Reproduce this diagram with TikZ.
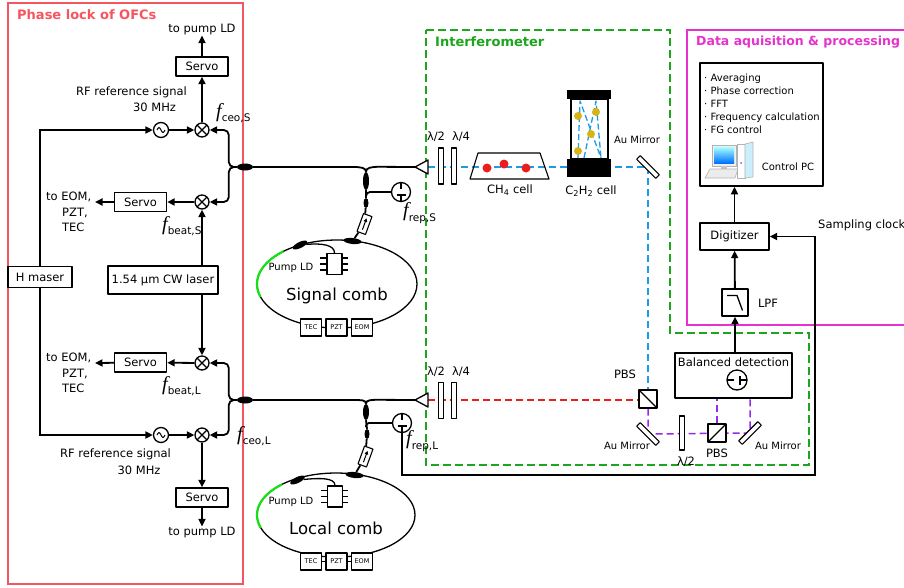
\documentclass[tikz,border=0pt]{standalone}
\usepackage{fontspec}
\setmainfont{DejaVu Sans}
\newfontfamily\fitalic{Liberation Serif}
\usetikzlibrary{arrows.meta,shapes.geometric}
\pgfdeclarelayer{back}
\pgfsetlayers{back,main}
\definecolor{lockred}{RGB}{245,85,95}
\definecolor{ifgreen}{RGB}{30,165,30}
\definecolor{daqpink}{RGB}{230,50,205}
\definecolor{beamblue}{RGB}{30,155,230}
\definecolor{beamred}{RGB}{235,30,30}
\definecolor{beamviolet}{RGB}{150,40,245}
\definecolor{pumpgreen}{RGB}{20,225,20}
\definecolor{gasyellow}{RGB}{215,180,20}
\newcommand{\fsig}[1]{{\fontsize{20}{20}\selectfont\fitalic\itshape f}\raisebox{-4.5pt}{\fontsize{10.5}{12}\selectfont #1}}
\tikzset{sig/.style={line width=1.8pt,-{Triangle[length=7.5pt,width=7pt]}}}
\tikzset{fiber/.style={line width=1.8pt}}
\tikzset{beam/.style={line width=1.5pt,dash pattern=on 7pt off 4pt}}
\tikzset{box/.style={draw,line width=1.4pt,fill=white}}
\tikzset{servo/.style={box,minimum width=52pt,minimum height=19pt}}
\tikzset{mixer/.style={circle,draw,line width=1.3pt,fill=white,minimum size=14pt,
  path picture={\draw[line width=1.1pt] (path picture bounding box.north west) -- (path picture bounding box.south east)
    (path picture bounding box.north east) -- (path picture bounding box.south west);}}}
\tikzset{osc/.style={circle,draw,line width=1.3pt,fill=white,minimum size=15pt,
  path picture={\draw[line width=1pt] ([xshift=-4pt]path picture bounding box.center)
    sin ++(2pt,2.5pt) cos ++(2pt,-2.5pt) sin ++(2pt,-2.5pt) cos ++(2pt,2.5pt);}}}
\tikzset{pdiode/.style={circle,draw,line width=1.3pt,fill=white,minimum size=19pt,
  path picture={\draw[line width=1.1pt] (path picture bounding box.north) -- (path picture bounding box.south);
    \fill ([shift={(-4.5pt,3pt)}]path picture bounding box.center) -- ++(9pt,0pt) -- ++(-4.5pt,-6pt) -- cycle;
    \draw[line width=1.3pt] ([shift={(-4.5pt,-3pt)}]path picture bounding box.center) -- ++(9pt,0pt);}}}
\tikzset{pdright/.style={circle,draw,line width=1.3pt,fill=white,minimum size=20pt,
  path picture={\draw[line width=1.1pt] (path picture bounding box.west) -- (path picture bounding box.east);
    \fill ([shift={(-3pt,4.5pt)}]path picture bounding box.center) -- ++(0pt,-9pt) -- ++(6pt,4.5pt) -- cycle;
    \draw[line width=1.3pt] ([shift={(3pt,-4.5pt)}]path picture bounding box.center) -- ++(0pt,9pt);}}}
\tikzset{isol/.style={draw,line width=1.1pt,fill=white,minimum width=9pt,minimum height=19pt,
  path picture={\draw[line width=1pt,-{Triangle[length=3.5pt,width=3.5pt]}] ([yshift=-6pt]path picture bounding box.center) -- ([yshift=6pt]path picture bounding box.center);}}}
\tikzset{plate/.style={draw,line width=1.1pt,fill=white,minimum width=5pt,minimum height=36pt}}
\tikzset{mirr/.style={draw,line width=1.1pt,fill=white,minimum width=27pt,minimum height=5pt}}
\tikzset{pbsA/.style={draw,line width=1.1pt,fill=white,minimum size=18pt,
  path picture={\draw[line width=1.1pt] (path picture bounding box.north west) -- (path picture bounding box.south east);}}}
\tikzset{pbsB/.style={draw,line width=1.1pt,fill=white,minimum size=18pt,
  path picture={\draw[line width=1.1pt] (path picture bounding box.south west) -- (path picture bounding box.north east);}}}
\tikzset{cpl/.style={ellipse,fill=black}}
\tikzset{ctrlbox/.style={box,line width=1.1pt,minimum width=21pt,minimum height=17pt,font=\fontsize{6.5}{7}\selectfont}}
\tikzset{ldbox/.style={box,line width=1.1pt,minimum width=15pt,minimum height=21pt}}
\tikzset{smalltext/.style={font=\fontsize{10}{12}\selectfont}}
\tikzset{frametitle/.style={anchor=west,font=\fontsize{13}{15}\selectfont\bfseries}}

\begin{document}
\begin{tikzpicture}[x=1pt,y=-1pt,inner sep=0pt,font=\fontsize{11.5}{14}\selectfont,line join=round]
\useasboundingbox (0,0) rectangle (904,587);

\begin{pgfonlayer}{back}
\draw[lockred,line width=1.8pt] (8,3) rectangle (243,584);
\draw[ifgreen,line width=1.8pt,dash pattern=on 8pt off 4pt] (426,30) -- (670,30) -- (670,333) -- (809,333) -- (809,465) -- (426,465) -- cycle;
\draw[daqpink,line width=1.8pt] (687,30) rectangle (912,325);
\end{pgfonlayer}
\node[frametitle,text=lockred] (tLock) at (17,15) {Phase lock of OFCs};
\node[frametitle,text=ifgreen] (tIf) at (435,42) {Interferometer};
\node[frametitle,text=daqpink,font=\fontsize{12.5}{15}\selectfont\bfseries] (tDaq) at (696,42) {Data aquisition \& processing};

\node[box,minimum width=64pt,minimum height=21pt] (maser) at (40,277) {H maser};
\node[box,minimum width=110pt,minimum height=28pt] (cw) at (163,280) {1.54 μm CW laser};

\node[osc] (oscS) at (161,130) {};
\node[mixer] (mixCS) at (202,130) {};
\node[servo] (servoCS) at (202,66.5) {Servo};
\node (pumpS) at (202,30) {to pump LD};
\node (rfS) at (131.5,92) {RF reference signal};
\node (rfSf) at (154.5,107) {30 MHz};
\node[anchor=west] (fceoS) at (216,113) {\fsig{ceo,S}};

\node[mixer] (mixBS) at (202,202) {};
\node[servo] (servoBS) at (140.5,202) {Servo};
\node[anchor=west,align=left,font=\fontsize{11.5}{15.5}\selectfont] (outBS) at (46,212) {to EOM,\\\hspace*{16pt}PZT,\\\hspace*{16pt}TEC};
\coordinate (outBSa) at (95,202);
\node[anchor=west] (fbS) at (162,226) {\fsig{beat,S}};

\node[mixer] (mixBL) at (202,363) {};
\node[servo] (servoBL) at (140.5,362.5) {Servo};
\node[anchor=west,align=left,font=\fontsize{11.5}{15.5}\selectfont] (outBL) at (46,373) {to EOM,\\\hspace*{16pt}PZT,\\\hspace*{16pt}TEC};
\coordinate (outBLa) at (95,363);
\node[anchor=west] (fbL) at (162,386) {\fsig{beat,L}};

\node[osc] (oscL) at (161,435) {};
\node[mixer] (mixCL) at (202,435) {};
\node[servo] (servoCL) at (202,497.5) {Servo};
\node (pumpL) at (202,532) {to pump LD};
\node (rfL) at (115.5,454) {RF reference signal};
\node (rfLf) at (139,470) {30 MHz};
\node[anchor=west] (fceoL) at (237,436) {\fsig{ceo,L}};

\node[cpl,minimum width=16pt,minimum height=7pt] (tapS) at (245,167) {};
\node[cpl,minimum width=6pt,minimum height=18pt] (ycS) at (366,181) {};
\node[cpl,minimum width=5pt,minimum height=10pt] (cS2) at (366,203) {};
\node[isol,rotate=-20] (isoS) at (364.5,224) {};
\node[cpl,minimum width=18pt,minimum height=6pt,rotate=-6] (ringcS) at (352.5,241) {};
\node[cpl,minimum width=16pt,minimum height=6pt,rotate=26] (cplPS) at (300,245) {};
\node[pdiode] (pdS) at (401,192) {};
\node[anchor=west] (frepS) at (403,213) {\fsig{rep,S}};
\coordinate (collS) at (415,167);
\coordinate (ringS) at (337,284);
\node[ldbox] (ldS) at (334.5,264) {};
\node[smalltext] (pumpldS) at (291,268) {Pump LD};
\node[font=\fontsize{16.5}{18}\selectfont] (nameS) at (337,296) {Signal comb};
\node[ctrlbox] (tecS) at (311,327.5) {TEC};
\node[ctrlbox] (pztS) at (336.5,327.5) {PZT};
\node[ctrlbox] (eomS) at (362,327.5) {EOM};

\node[cpl,minimum width=16pt,minimum height=7pt] (tapL) at (245,400) {};
\node[cpl,minimum width=6pt,minimum height=16pt] (ycL) at (366,412) {};
\node[cpl,minimum width=5pt,minimum height=10pt] (cL2) at (367,434) {};
\node[isol,rotate=-20] (isoL) at (365.5,456.5) {};
\node[cpl,minimum width=18pt,minimum height=6pt,rotate=-6] (ringcL) at (354.5,475) {};
\node[cpl,minimum width=16pt,minimum height=6pt,rotate=26] (cplPL) at (297.5,480) {};
\node[pdiode] (pdL) at (402,423) {};
\node[anchor=west] (frepL) at (406,441) {\fsig{rep,L}};
\coordinate (collL) at (415,400);
\coordinate (ringL) at (336,515);
\node[ldbox] (ldL) at (335,496.5) {};
\node[smalltext] (pumpldL) at (291,502) {Pump LD};
\node[font=\fontsize{16.5}{18}\selectfont] (nameL) at (336,528) {Local comb};
\node[ctrlbox] (tecL) at (311,561.5) {TEC};
\node[ctrlbox] (pztL) at (336.5,561.5) {PZT};
\node[ctrlbox] (eomL) at (362,561.5) {EOM};

\foreach \ld in {ldS,ldL}{
  \foreach \dy in {-6,0,6}{
    \draw[line width=1.1pt] ([yshift=\dy pt]\ld.west) -- ++(-6,0);
    \draw[line width=1.1pt] ([yshift=\dy pt]\ld.east) -- ++(5,0);
  }
}

\begin{pgfonlayer}{back}
\draw[sig] (maser) |- (oscS);
\draw[sig] (oscS) -- (mixCS);
\draw[sig] (mixCS) -- (servoCS);
\draw[sig] (servoCS) -- (pumpS);
\draw[sig] (mixBS) -- (servoBS);
\draw[sig] (servoBS) -- (outBSa);
\draw[sig] (cw.north -| mixBS) -- (mixBS);
\draw[sig] (cw.south -| mixBL) -- (mixBL);
\draw[sig] (mixBL) -- (servoBL);
\draw[sig] (servoBL) -- (outBLa);
\draw[sig] (maser) |- (oscL);
\draw[sig] (oscL) -- (mixCL);
\draw[sig] (mixCL) -- (servoCL);
\draw[sig] (servoCL) -- (pumpL);

\draw[sig,rounded corners=5pt] (tapS.west) -- ++(-8,0) |- (mixCS);
\draw[sig,rounded corners=5pt] (tapS.west) -- ++(-8,0) |- (mixBS);
\draw[fiber] (tapS.east) -- ++(100,0) .. controls +(8,0) and +(0,-4) .. (ycS.north);
\draw[fiber] (ycS.north) .. controls +(0,-4) and +(-8,0) .. ++(13,-5) -- (collS);
\draw[fiber] (ycS.south) -- (cS2.north);
\draw[fiber,rounded corners=4pt] (ycS.south) ++(0,6) |- (pdS);
\draw[fiber] (cS2) -- (isoS);
\draw[fiber] (isoS) -- (ringcS);
\draw[line width=1.3pt] (ringS) ellipse [x radius=80,y radius=44];
\draw[pumpgreen,line width=2.2pt] (ringS) ++(163:80 and 44) arc[start angle=163,end angle=228,x radius=80,y radius=44];
\draw[line width=1.3pt] (cplPS) .. controls +(22,-2) and +(0,-8) .. (ldS.north);
\draw[line width=1.1pt] (tecS) -- (pztS);
\draw[line width=1.1pt] (pztS) -- (eomS);

\draw[sig,rounded corners=5pt] (tapL.west) -- ++(-8,0) |- (mixBL);
\draw[sig,rounded corners=5pt] (tapL.west) -- ++(-8,0) |- (mixCL);
\draw[fiber] (tapL.east) -- ++(100,0) .. controls +(8,0) and +(0,-4) .. (ycL.north);
\draw[fiber] (ycL.north) .. controls +(0,-4) and +(-8,0) .. ++(13,-4) -- (collL);
\draw[fiber] (ycL.south) -- (cL2.north);
\draw[fiber,rounded corners=3pt] (ycL.south) ++(0,7) |- (pdL);
\draw[fiber] (cL2) -- (isoL);
\draw[fiber] (isoL) -- (ringcL);
\draw[line width=1.3pt] (ringL) ellipse [x radius=79,y radius=42];
\draw[pumpgreen,line width=2.2pt] (ringL) ++(162:79 and 42) arc[start angle=162,end angle=227,x radius=79,y radius=42];
\draw[line width=1.3pt] (cplPL) .. controls +(22,-2) and +(0,-8) .. (ldL.north);
\draw[line width=1.1pt] (tecL) -- (pztL);
\draw[line width=1.1pt] (pztL) -- (eomL);
\end{pgfonlayer}

\draw[line width=1.3pt,fill=white] (collS) -- ++(13,-7) -- ++(0,14) -- cycle;
\draw[line width=1.3pt,fill=white] (collL) -- ++(13,-7) -- ++(0,14) -- cycle;
\coordinate (beamS) at (428,167);
\coordinate (beamL) at (428,400);

\node[plate] (hwS) at (441,166) {};
\node[plate] (qwS) at (454,166) {};
\node (lhS) at (436,137) {λ/2};
\node (lqS) at (461,137) {λ/4};
\node[plate] (hwL) at (441,400.5) {};
\node[plate] (qwL) at (454,400.5) {};
\node (lhL) at (436,372) {λ/2};
\node (lqL) at (461,372) {λ/4};

\draw[line width=1.1pt] (478,153) -- (540,153) -- (549,179) -- (470,179) -- cycle;
\foreach \p in {(487,168),(504,164),(526,168)} \fill[beamred] \p circle[radius=4.5];
\node (ch4) at (510,190) {CH\textsubscript{4} cell};

\draw[line width=1.1pt] (571,99) rectangle (608,159);
\draw[beamblue,line width=1.3pt,dash pattern=on 6pt off 3pt] (578,158) -- (580,101) -- (601,158) (584,158) -- (596,101) -- (601,158);
\foreach \p in {(578,116),(596,112),(591,134),(578,151)} \fill[gasyellow] \p circle[radius=4];
\fill (567,90) rectangle (611,99);
\fill (567,159) rectangle (611,177);
\node (c2h2) at (591,191) {C\textsubscript{2}H\textsubscript{2} cell};

\node[mirr,rotate=-45] (m1) at (648,167) {};
\node[smalltext] (lm1) at (637,140) {Au Mirror};
\node[pbsA] (pbs1) at (648,399) {};
\node (lpbs1) at (625,374) {PBS};
\node[mirr,rotate=-45] (m2) at (648,434) {};
\node[smalltext] (lm2) at (627,446) {Au Mirror};
\node[plate,minimum height=34pt] (hw3) at (682,433) {};
\node (lhw3) at (686,462) {λ/2};
\node[pbsB] (pbs2) at (717,433) {};
\node (lpbs2) at (717,453) {PBS};
\node[mirr,rotate=45] (m3) at (750,433) {};
\node[smalltext] (lm3) at (778,446) {Au Mirror};

\node[box,minimum width=117pt,minimum height=45pt] (bd) at (733.5,375.5) {};
\node (bdtext) at (733.5,362) {Balanced detection};
\node[pdright] (bdpd) at (737,380) {};
\node[box,minimum width=26pt,minimum height=27pt] (lpf) at (735,302.5) {};
\draw[line width=1.3pt] (727,295.5) -- (737,295.5) -- (742.5,310.5);
\node (lpftext) at (768,303) {LPF};
\node[box,minimum width=69pt,minimum height=27pt] (dig) at (734.5,236.5) {Digitizer};
\node[anchor=west] (clktext) at (818,225) {Sampling clock};
\coordinate (clkR) at (815,475);

\node[box,line width=1.7pt,minimum width=123pt,minimum height=123pt] (pc) at (761.5,124.5) {};
\node[anchor=north west,align=left,font=\fontsize{10}{13}\selectfont] (tasks) at (704,74) {· Averaging\\· Phase correction\\· FFT\\· Frequency calculation\\· FG control};
\node[smalltext] (pctext) at (788,167) {Control PC};
\filldraw[fill=gray!12,draw=gray!60,line width=0.6pt] (712,145) rectangle (736,166);
\shade[top color=cyan!35,bottom color=blue!55!cyan] (714,147) rectangle (734,163);
\fill[gray!45] (721,166) rectangle (727,169);
\filldraw[fill=gray!15,draw=gray!60,line width=0.6pt] (710,169) -- (738,169) -- (735,178) -- (705,178) -- cycle;
\filldraw[fill=white,draw=gray!60,line width=0.6pt] (737,144) rectangle (745,178);
\filldraw[fill=cyan!20,draw=gray!60,line width=0.6pt] (745,144) -- (753,142) -- (753,177) -- (745,178) -- cycle;
\fill[blue!60] (741,163) circle[radius=1];

\begin{pgfonlayer}{back}
\draw[beam,beamblue] (beamS) -- (m1.center) -- (pbs1);
\draw[beam,beamred] (beamL) -- (beamL -| pbs1.west);
\draw[beam,beamviolet] (pbs1) -- (m2.center) -- (m3.center) -- (bd.south -| m3);
\draw[beam,beamviolet] (pbs2) -- (bd.south -| pbs2);
\draw[sig] (bd.north -| lpf) -- (lpf);
\draw[sig] (lpf) -- (dig);
\draw[sig] (dig) -- (dig |- pc.south);
\draw[sig] (pdL) |- (clkR) |- (dig);
\end{pgfonlayer}
\end{tikzpicture}
\end{document}
